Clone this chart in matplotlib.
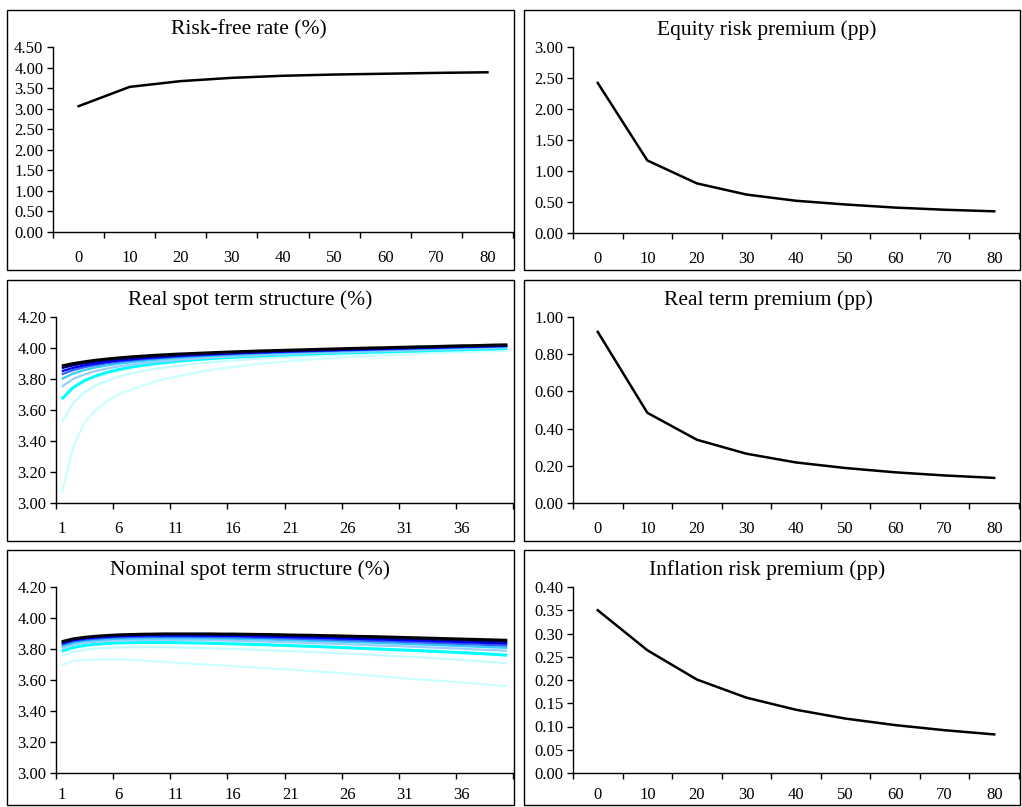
import matplotlib
matplotlib.use("Agg")
import matplotlib.pyplot as plt
from matplotlib.patches import Rectangle
from matplotlib.ticker import FixedLocator, FormatStrFormatter

plt.rcParams['font.family'] = ['Liberation Serif', 'DejaVu Serif']

# ---------------- data ----------------
horizon_labels = ["0", "10", "20", "30", "40", "50", "60", "70", "80"]
risk_free = [3.06, 3.53, 3.67, 3.75, 3.80, 3.83, 3.85, 3.87, 3.885]
equity_rp = [2.42, 1.17, 0.80, 0.62, 0.52, 0.46, 0.41, 0.375, 0.35]
real_tp = [0.92, 0.485, 0.34, 0.265, 0.218, 0.188, 0.165, 0.148, 0.135]
infl_rp = [0.350, 0.264, 0.201, 0.162, 0.136, 0.117, 0.103, 0.092, 0.083]

maturities = list(range(1, 41))
maturity_labels = ["1", "6", "11", "16", "21", "26", "31", "36"]

real_h0 = [3.06, 3.36, 3.52, 3.60, 3.66, 3.70, 3.73, 3.755, 3.78, 3.80,
           3.815, 3.83, 3.845, 3.857, 3.868, 3.878, 3.887, 3.895, 3.902, 3.909,
           3.915, 3.921, 3.926, 3.931, 3.936, 3.94, 3.944, 3.948, 3.952, 3.955,
           3.958, 3.961, 3.964, 3.967, 3.970, 3.972, 3.975, 3.978, 3.980, 3.983]
real_h10 = [3.52, 3.645, 3.715, 3.76, 3.79, 3.815, 3.835, 3.85, 3.863, 3.874,
            3.884, 3.893, 3.901, 3.908, 3.914, 3.92, 3.925, 3.93, 3.935, 3.939,
            3.943, 3.947, 3.95, 3.953, 3.956, 3.959, 3.962, 3.965, 3.967, 3.97,
            3.972, 3.974, 3.976, 3.978, 3.98, 3.982, 3.984, 3.986, 3.988, 3.99]
real_h20 = [3.67, 3.745, 3.79, 3.82, 3.843, 3.861, 3.875, 3.887, 3.897, 3.906,
            3.913, 3.92, 3.926, 3.931, 3.936, 3.94, 3.944, 3.948, 3.951, 3.954,
            3.957, 3.96, 3.962, 3.965, 3.967, 3.969, 3.971, 3.973, 3.975, 3.977,
            3.979, 3.981, 3.983, 3.985, 3.987, 3.989, 3.991, 3.993, 3.995, 3.997]
real_h30 = [3.75, 3.80, 3.83, 3.852, 3.868, 3.881, 3.892, 3.901, 3.909, 3.916,
            3.922, 3.928, 3.933, 3.938, 3.942, 3.946, 3.95, 3.953, 3.956, 3.959,
            3.962, 3.965, 3.967, 3.97, 3.972, 3.974, 3.976, 3.978, 3.98, 3.982,
            3.984, 3.986, 3.988, 3.99, 3.992, 3.994, 3.996, 3.998, 4.0, 4.002]
real_h40 = [3.80, 3.835, 3.858, 3.875, 3.888, 3.899, 3.908, 3.916, 3.923, 3.929,
            3.935, 3.94, 3.944, 3.948, 3.952, 3.956, 3.959, 3.962, 3.965, 3.968,
            3.97, 3.973, 3.975, 3.977, 3.979, 3.981, 3.983, 3.985, 3.987, 3.989,
            3.991, 3.993, 3.995, 3.997, 3.999, 4.001, 4.003, 4.005, 4.006, 4.008]
real_h50 = [3.83, 3.857, 3.876, 3.89, 3.902, 3.911, 3.919, 3.926, 3.932, 3.938,
            3.943, 3.947, 3.951, 3.955, 3.958, 3.962, 3.965, 3.968, 3.97, 3.973,
            3.975, 3.977, 3.979, 3.981, 3.983, 3.985, 3.987, 3.989, 3.991, 3.993,
            3.995, 3.997, 3.999, 4.0, 4.002, 4.004, 4.006, 4.008, 4.009, 4.011]
real_h60 = [3.85, 3.872, 3.888, 3.9, 3.911, 3.919, 3.926, 3.933, 3.938, 3.943,
            3.948, 3.952, 3.956, 3.959, 3.962, 3.965, 3.968, 3.971, 3.973, 3.976,
            3.978, 3.98, 3.982, 3.984, 3.986, 3.988, 3.99, 3.992, 3.994, 3.996,
            3.998, 4.0, 4.001, 4.003, 4.005, 4.007, 4.008, 4.01, 4.012, 4.014]
real_h70 = [3.87, 3.888, 3.901, 3.912, 3.921, 3.928, 3.934, 3.94, 3.945, 3.949,
            3.953, 3.957, 3.96, 3.963, 3.966, 3.969, 3.972, 3.974, 3.977, 3.979,
            3.981, 3.983, 3.985, 3.987, 3.989, 3.991, 3.993, 3.995, 3.997, 3.999,
            4.0, 4.002, 4.004, 4.006, 4.008, 4.01, 4.011, 4.013, 4.015, 4.017]
real_h80 = [3.885, 3.9, 3.912, 3.922, 3.93, 3.937, 3.943, 3.948, 3.953, 3.957,
            3.961, 3.964, 3.967, 3.97, 3.973, 3.976, 3.978, 3.981, 3.983, 3.985,
            3.987, 3.989, 3.991, 3.993, 3.995, 3.997, 3.999, 4.001, 4.002, 4.004,
            4.006, 4.008, 4.009, 4.011, 4.013, 4.015, 4.016, 4.018, 4.02, 4.021]

nom_h0 = [3.695, 3.722, 3.73, 3.733, 3.733, 3.732, 3.73, 3.727, 3.722, 3.717,
          3.712, 3.707, 3.702, 3.698, 3.694, 3.689, 3.685, 3.68, 3.676, 3.671,
          3.667, 3.662, 3.657, 3.652, 3.647, 3.641, 3.635, 3.629, 3.623, 3.617,
          3.611, 3.605, 3.6, 3.595, 3.59, 3.584, 3.578, 3.572, 3.566, 3.56]
nom_h10 = [3.755, 3.782, 3.795, 3.803, 3.807, 3.81, 3.811, 3.812, 3.812, 3.811,
           3.81, 3.808, 3.806, 3.804, 3.802, 3.8, 3.797, 3.795, 3.792, 3.789,
           3.786, 3.783, 3.78, 3.777, 3.774, 3.77, 3.767, 3.763, 3.759, 3.755,
           3.751, 3.747, 3.743, 3.739, 3.734, 3.729, 3.724, 3.719, 3.713, 3.707]
nom_h20 = [3.785, 3.81, 3.823, 3.831, 3.836, 3.839, 3.841, 3.842, 3.842, 3.842,
           3.841, 3.84, 3.839, 3.837, 3.835, 3.833, 3.831, 3.829, 3.827, 3.824,
           3.822, 3.819, 3.817, 3.814, 3.811, 3.808, 3.805, 3.802, 3.799, 3.796,
           3.793, 3.79, 3.787, 3.783, 3.78, 3.776, 3.773, 3.769, 3.765, 3.76]
nom_h30 = [3.805, 3.828, 3.84, 3.847, 3.852, 3.855, 3.857, 3.858, 3.859, 3.859,
           3.859, 3.858, 3.857, 3.856, 3.855, 3.853, 3.851, 3.849, 3.847, 3.845,
           3.843, 3.841, 3.838, 3.836, 3.833, 3.831, 3.828, 3.825, 3.822, 3.82,
           3.817, 3.814, 3.811, 3.808, 3.805, 3.802, 3.798, 3.795, 3.792, 3.788]
nom_h40 = [3.818, 3.84, 3.851, 3.858, 3.863, 3.866, 3.868, 3.869, 3.87, 3.87,
           3.87, 3.87, 3.869, 3.868, 3.867, 3.866, 3.864, 3.862, 3.861, 3.859,
           3.857, 3.855, 3.852, 3.85, 3.848, 3.846, 3.843, 3.841, 3.838, 3.836,
           3.833, 3.83, 3.828, 3.825, 3.822, 3.819, 3.816, 3.813, 3.81, 3.807]
nom_h50 = [3.828, 3.849, 3.86, 3.867, 3.872, 3.875, 3.877, 3.878, 3.879, 3.879,
           3.879, 3.879, 3.878, 3.877, 3.876, 3.875, 3.874, 3.872, 3.871, 3.869,
           3.867, 3.865, 3.863, 3.861, 3.859, 3.857, 3.855, 3.852, 3.85, 3.848,
           3.845, 3.843, 3.84, 3.838, 3.835, 3.832, 3.83, 3.827, 3.824, 3.821]
nom_h60 = [3.836, 3.856, 3.867, 3.874, 3.879, 3.882, 3.884, 3.886, 3.887, 3.887,
           3.887, 3.887, 3.886, 3.886, 3.885, 3.884, 3.883, 3.881, 3.88, 3.878,
           3.877, 3.875, 3.873, 3.871, 3.869, 3.867, 3.865, 3.863, 3.861, 3.859,
           3.856, 3.854, 3.852, 3.849, 3.847, 3.844, 3.842, 3.839, 3.837, 3.834]
nom_h70 = [3.842, 3.861, 3.872, 3.879, 3.884, 3.887, 3.89, 3.891, 3.892, 3.893,
           3.893, 3.893, 3.893, 3.892, 3.892, 3.891, 3.89, 3.889, 3.887, 3.886,
           3.885, 3.883, 3.881, 3.88, 3.878, 3.876, 3.874, 3.872, 3.87, 3.868,
           3.866, 3.864, 3.862, 3.86, 3.857, 3.855, 3.853, 3.85, 3.848, 3.846]
nom_h80 = [3.848, 3.866, 3.876, 3.883, 3.888, 3.892, 3.894, 3.896, 3.897, 3.898,
           3.898, 3.898, 3.898, 3.898, 3.897, 3.897, 3.896, 3.895, 3.894, 3.893,
           3.891, 3.89, 3.889, 3.887, 3.886, 3.884, 3.882, 3.881, 3.879, 3.877,
           3.875, 3.873, 3.871, 3.869, 3.867, 3.865, 3.863, 3.861, 3.859, 3.857]

real_curves = [real_h0, real_h10, real_h20, real_h30, real_h40,
               real_h50, real_h60, real_h70, real_h80]
nom_curves = [nom_h0, nom_h10, nom_h20, nom_h30, nom_h40,
              nom_h50, nom_h60, nom_h70, nom_h80]

curve_colors = ['#ccffff', '#c4fcff', '#00ffff', '#99ccff', '#33ccff',
                '#3366ff', '#0000ff', '#000080', '#000000']
curve_widths = [1.6, 1.6, 2.2, 1.6, 1.6, 1.6, 1.6, 1.6, 2.0]

# ---------------- figure ----------------
W, H = 1022, 807
fig = plt.figure(figsize=(W / 100, H / 100), dpi=100)


def px_axes(x0, y0, x1, y1):
    return fig.add_axes([x0 / W, 1 - y1 / H, (x1 - x0) / W, (y1 - y0) / H])


def box(x0, y0, x1, y1):
    fig.add_artist(Rectangle((x0 / W, 1 - y1 / H), (x1 - x0) / W, (y1 - y0) / H,
                             transform=fig.transFigure, fill=False,
                             edgecolor='black', linewidth=1.0))


def style(ax, xpad):
    for s in ('top', 'right'):
        ax.spines[s].set_visible(False)
    for s in ('left', 'bottom'):
        ax.spines[s].set_linewidth(1.0)
    ax.yaxis.set_major_formatter(FormatStrFormatter("%.2f"))
    ax.tick_params(axis='y', direction='out', length=4, width=1, pad=3, labelsize=12)
    ax.tick_params(axis='x', which='major', direction='out', length=4, width=1)
    ax.tick_params(axis='x', which='minor', length=0, pad=xpad, labelsize=12)


def horizon_panel(ax, values, ymax, ystep, xpad=13):
    xs = list(range(len(horizon_labels)))
    ax.plot(xs, values, color='black', linewidth=1.8)
    ax.set_xlim(-0.5, len(horizon_labels) - 0.5)
    ax.xaxis.set_major_locator(FixedLocator([i - 0.5 for i in range(len(horizon_labels) + 1)]))
    ax.xaxis.set_ticklabels([])
    ax.set_xticks(xs, horizon_labels, minor=True)
    n = int(round(ymax / ystep))
    ax.set_yticks([i * ystep for i in range(n + 1)])
    ax.set_ylim(0, ymax)
    style(ax, xpad)


def term_panel(ax, curves, xpad=13):
    for c, col, lw in zip(curves, curve_colors, curve_widths):
        ax.plot(maturities, c, color=col, linewidth=lw, solid_capstyle='butt')
    ax.set_xlim(0.5, 40.5)
    ax.xaxis.set_major_locator(FixedLocator([0.5 + 5 * i for i in range(9)]))
    ax.xaxis.set_ticklabels([])
    lab_pos = [int(l) for l in maturity_labels]
    ax.set_xticks(lab_pos, maturity_labels, minor=True)
    ax.set_yticks([3.0 + 0.2 * i for i in range(7)])
    ax.set_ylim(3.0, 4.2)
    style(ax, xpad)


# chart boxes
box(7, 10, 514, 270)
box(524, 10, 1020, 270)
box(7, 280, 514, 541)
box(524, 280, 1020, 541)
box(7, 550, 514, 805)
box(524, 550, 1020, 805)

ax1 = px_axes(53, 47, 513, 232)
horizon_panel(ax1, risk_free, 4.5, 0.5)
ax2 = px_axes(573, 47, 1019, 233)
horizon_panel(ax2, equity_rp, 3.0, 0.5)
ax3 = px_axes(56, 317, 513, 503)
term_panel(ax3, real_curves)
ax4 = px_axes(573, 317, 1019, 503)
horizon_panel(ax4, real_tp, 1.0, 0.2)
ax5 = px_axes(56, 587, 513, 773)
term_panel(ax5, nom_curves, xpad=10)
ax6 = px_axes(573, 587, 1019, 773)
horizon_panel(ax6, infl_rp, 0.4, 0.05, xpad=10)

titles = [("Risk-free rate (%)", 249, 30),
          ("Equity risk premium (pp)", 767, 30),
          ("Real spot term structure (%)", 250, 300),
          ("Real term premium (pp)", 768, 300),
          ("Nominal spot term structure (%)", 250, 570),
          ("Inflation risk premium (pp)", 767, 570)]
for t, x, y in titles:
    fig.text(x / W, 1 - y / H, t, ha='center', va='center', fontsize=15.5)

fig.savefig("out.png", dpi=100)
